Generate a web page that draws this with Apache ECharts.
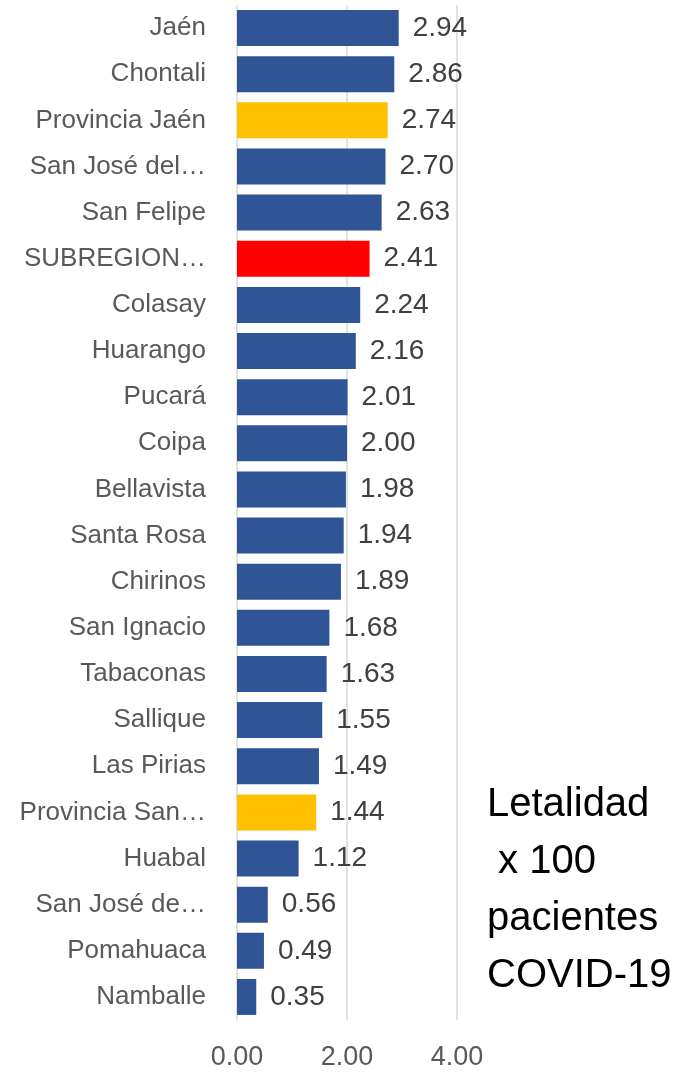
<!DOCTYPE html>
<html>
<head>
<meta charset="utf-8">
<script src="https://cdn.jsdelivr.net/npm/echarts@6/dist/echarts.min.js"></script>
<style>
  html, body { margin: 0; padding: 0; background: #fff; }
  #chart { width: 676px; height: 1074px; }
</style>
</head>
<body>
<div id="chart"></div>
<script>
var distritos = ['Jaén', 'Chontali', 'Provincia Jaén', 'San José del…', 'San Felipe', 'SUBREGION…',
    'Colasay', 'Huarango', 'Pucará', 'Coipa', 'Bellavista', 'Santa Rosa', 'Chirinos', 'San Ignacio',
    'Tabaconas', 'Sallique', 'Las Pirias', 'Provincia San…', 'Huabal', 'San José de…', 'Pomahuaca', 'Namballe'];
var letalidad = [2.94, 2.86, 2.74, 2.70, 2.63, 2.41, 2.24, 2.16, 2.01, 2.00, 1.98, 1.94, 1.89, 1.68,
    1.63, 1.55, 1.49, 1.44, 1.12, 0.56, 0.49, 0.35];
var ticks = [0, 2, 4];

var AZUL = '#2F5597', AMARILLO = '#FFC000', ROJO = '#FF0000';

function colorDe(nombre) {
    if (nombre.indexOf('Provincia') === 0) return AMARILLO;
    if (nombre.indexOf('SUBREGION') === 0) return ROJO;
    return AZUL;
}

var datos = [];
for (var i = 0; i < distritos.length; i++) {
    datos.push({ value: letalidad[i], itemStyle: { color: colorDe(distritos[i]) } });
}

var Chart = echarts.init(document.getElementById('chart'));
var option = {
    animation: false,
    textStyle: { fontFamily: 'Liberation Sans' },
    grid: { left: 237, right: 219, top: 5, bottom: 54 },
    xAxis: {
        type: 'value',
        min: ticks[0],
        max: ticks[ticks.length - 1],
        interval: 2,
        axisLine: { show: false },
        axisTick: { show: false },
        splitLine: { lineStyle: { color: '#d9d9d9', width: 1.5 } },
        axisLabel: {
            margin: 24,
            fontSize: 27,
            color: '#595959',
            formatter: function (v) { return v.toFixed(2); }
        }
    },
    yAxis: {
        type: 'category',
        inverse: true,
        data: distritos,
        axisLine: { show: false },
        axisTick: { show: false },
        axisLabel: { margin: 31, fontSize: 26, color: '#595959' }
    },
    series: [{
        type: 'bar',
        data: datos,
        barCategoryGap: '22%',
        label: {
            show: true,
            position: 'right',
            distance: 14,
            fontSize: 28,
            color: '#404040',
            formatter: function (p) { return p.value.toFixed(2); }
        }
    }],
    graphic: [{
        type: 'text',
        left: 487,
        top: 776,
        style: {
            text: 'Letalidad\n x 100\npacientes\nCOVID-19',
            font: '40px Liberation Sans',
            lineHeight: 57,
            fill: '#000'
        }
    }]
};
Chart.setOption(option);
</script>
</body>
</html>
